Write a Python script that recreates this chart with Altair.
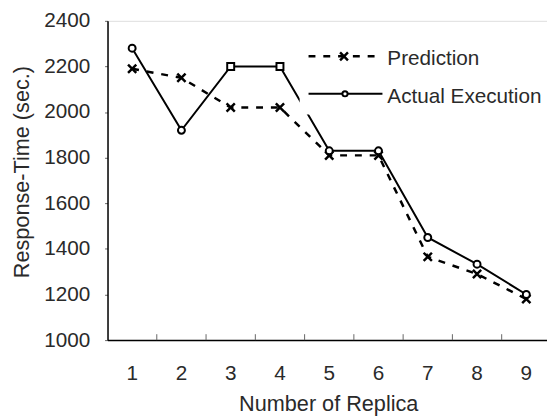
import altair as alt
import pandas as pd

# ---- data ----
replica = [1, 2, 3, 4, 5, 6, 7, 8, 9]
prediction = [2190, 2150, 2020, 2020, 1810, 1810, 1365, 1290, 1180]
actual = [2280, 1920, 2200, 2200, 1830, 1830, 1450, 1333, 1200]
actual_marker = ["circle", "circle", "square", "square", "circle", "circle", "circle", "circle", "circle"]
y_ticks = [1000, 1200, 1400, 1600, 1800, 2000, 2200, 2400]
series_names = ["Prediction", "Actual Execution"]

FONT = "Liberation Sans"
TXT = "#2a2a2a"
XSHAPE = "M-1,-1L1,1M1,-1L-1,1"
H = 324

pred_df = pd.DataFrame({"replica": replica, "value": prediction})
act_df = pd.DataFrame({"replica": replica, "value": actual, "marker": actual_marker})
bound_df = pd.DataFrame({"replica": replica[1:]})

xscale = alt.Scale(paddingInner=0, paddingOuter=0, range=[0, 450])
yscale = alt.Scale(domain=[1000, 2400], nice=False, zero=False)

xenc = alt.X("replica:O", scale=xscale, sort="ascending",
             axis=alt.Axis(title="Number of Replica", labelAngle=0, ticks=False, tickSize=0,
                           labelPadding=23, labelFontSize=21, labelFont=FONT, labelColor=TXT,
                           domainColor="black", domainWidth=1.5,
                           titleFont=FONT, titleFontSize=22, titleFontWeight="normal", titleColor=TXT,
                           titleBaseline="alphabetic", titleY=71, titleX=224, titleAlign="center"))
yenc = alt.Y("value:Q", scale=yscale,
             axis=alt.Axis(title="Response-Time (sec.)", values=y_ticks, format="d", grid=False,
                           tickSize=3, tickColor="#666", labelPadding=15, labelFontSize=21,
                           labelFont=FONT, labelColor=TXT, domainColor="black", domainWidth=1.5,
                           titleFont=FONT, titleFontSize=22, titleFontWeight="normal", titleColor=TXT,
                           titleBaseline="alphabetic", titleX=-80.5, titleY=153, titleAlign="center",
                           titleAngle=270))

pred_line = alt.Chart(pred_df).mark_line(color="black", strokeWidth=2.5, strokeDash=[7, 8]).encode(x=xenc, y=yenc)
act_line = alt.Chart(act_df).mark_line(color="black", strokeWidth=2).encode(x=xenc, y=yenc)
pred_pts = alt.Chart(pred_df).mark_point(shape=XSHAPE, size=70, color="black", strokeWidth=2.5,
                                         filled=False, opacity=1).encode(x=xenc, y=yenc)
act_pts = alt.Chart(act_df).mark_point(size=50, color="black", strokeWidth=2, filled=False,
                                       fill="white", opacity=1).encode(
    x=xenc, y=yenc, shape=alt.Shape("marker:N", scale=None, legend=None))

ticks = alt.Chart(bound_df).mark_rule(color="#666", strokeWidth=1).encode(
    x=alt.X("replica:O", bandPosition=0, scale=xscale), y=alt.value(H - 6), y2=alt.value(H))

one = alt.Data(values=[{"a": 1}])
leg_bg = alt.Chart(one).mark_rect(fill="white", stroke=None).encode(
    x=alt.value(195), x2=alt.value(455), y=alt.value(12), y2=alt.value(95))
leg_pred_line = alt.Chart(one).mark_rule(color="black", strokeWidth=2.5, strokeDash=[7, 8]).encode(
    x=alt.value(204), x2=alt.value(271), y=alt.value(36))
leg_act_line = alt.Chart(one).mark_rule(color="black", strokeWidth=2).encode(
    x=alt.value(204), x2=alt.value(279), y=alt.value(74))
leg_pred_pt = alt.Chart(one).mark_point(shape=XSHAPE, size=64, color="black", strokeWidth=2.5,
                                        filled=False, opacity=1).encode(x=alt.value(240), y=alt.value(36))
leg_act_pt = alt.Chart(one).mark_point(shape="circle", size=28, color="black", strokeWidth=2,
                                       filled=False, fill="white", opacity=1).encode(x=alt.value(241), y=alt.value(74))
leg_pred_txt = alt.Chart(one).mark_text(text=series_names[0], font=FONT, fontSize=21, align="left",
                                        baseline="middle", color=TXT).encode(x=alt.value(284), y=alt.value(39))
leg_act_txt = alt.Chart(one).mark_text(text=series_names[1], font=FONT, fontSize=21, align="left",
                                       baseline="middle", color=TXT).encode(x=alt.value(284), y=alt.value(77))

chart = alt.layer(
    pred_line, act_line, pred_pts, act_pts, ticks,
    leg_bg, leg_pred_line, leg_act_line, leg_pred_pt, leg_act_pt, leg_pred_txt, leg_act_txt
).properties(
    width=446, height=H,
    autosize=alt.AutoSizeParams(type="none"),
    padding={"left": 101, "top": 10, "right": 0, "bottom": 75},
).configure_view(stroke="#666", strokeWidth=1).configure(background="white")

chart.save("out.html", embed_options={"renderer": "svg", "actions": False})
